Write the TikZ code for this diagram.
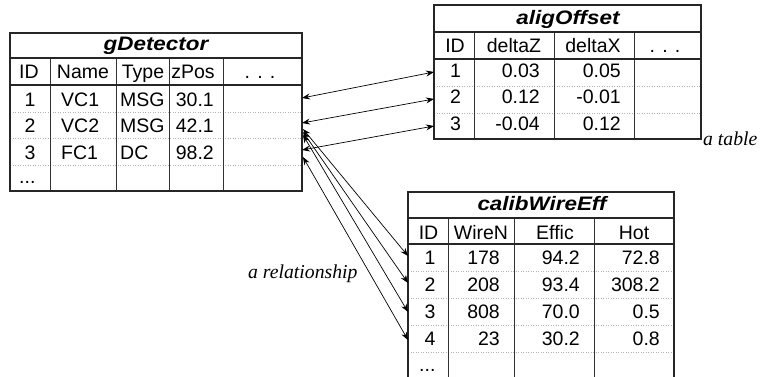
\documentclass[tikz,border=0pt]{standalone}
\usepackage{fontspec}
\usepackage{graphicx}
\newfontfamily\tabfont{Liberation Sans}
\newfontfamily\annfont{Liberation Serif}
\usetikzlibrary{arrows.meta}
\newcommand\celltxt[4]{\node[cell,anchor=#1] (#2) at (#3) {#4};}
\newcommand\ttltxt[3]{\node[ttl,anchor=base] (#1) at (#2) {\scalebox{1.15}[1]{#3}};}
\begin{document}
\begin{tikzpicture}[x=1pt,y=-1pt,
  frame/.style={draw=black!85,line width=1.3pt},
  grid/.style={draw=black!80,line width=0.9pt},
  sep/.style={draw=black!30,dotted,line width=0.5pt},
  cell/.style={inner sep=0pt,font=\tabfont\fontsize{19.5}{21}\selectfont},
  ttl/.style={inner sep=0pt,font=\tabfont\bfseries\itshape\fontsize{19.5}{21}\selectfont},
  ann/.style={inner sep=0pt,font=\annfont\itshape\fontsize{19.7}{22}\selectfont},
  rel/.style={line width=0.7pt,{Stealth[length=8pt,width=6pt]}-{Stealth[length=8pt,width=6pt]}}
]
\useasboundingbox (0,0) rectangle (761,377);

% ---------------- gDetector ----------------
\draw[sep] (10,112)--(302,112) (10,138)--(302,138) (10,165)--(302,165);
\draw[grid] (50,58)--(50,191) (116,58)--(116,191) (169,58)--(169,191) (223,58)--(223,191);
\draw[frame] (10,58)--(302,58) (10,85)--(302,85);
\draw[frame] (10,33) rectangle (302,191);
\ttltxt{gT}{156,51}{gDetector}
\celltxt{base}{gH1}{29,79}{ID}
\celltxt{base}{gH2}{83,79}{Name}
\celltxt{base}{gH3}{143,79}{Type}
\celltxt{base}{gH4}{193,79}{zPos}
\celltxt{base}{gH5}{260,79}{. . .}
\celltxt{base}{g11}{30,106.5}{1}
\celltxt{base west}{g12}{61,106.5}{VC1}
\celltxt{base west}{g13}{120,106.5}{MSG}
\celltxt{base east}{g14}{214,106.5}{30.1}
\celltxt{base}{g21}{30,133}{2}
\celltxt{base west}{g22}{61,133}{VC2}
\celltxt{base west}{g23}{120,133}{MSG}
\celltxt{base east}{g24}{214,133}{42.1}
\celltxt{base}{g31}{30,160}{3}
\celltxt{base west}{g32}{61,160}{FC1}
\celltxt{base west}{g33}{120,160}{DC}
\celltxt{base east}{g34}{214,160}{98.2}
\celltxt{base west}{g41}{19,184}{...}

% ---------------- aligOffset ----------------
\draw[sep] (434,86)--(701,86) (434,113)--(701,113);
\draw[grid] (474,32)--(474,139) (554,32)--(554,139) (634,32)--(634,139);
\draw[frame] (434,32)--(701,32) (434,59)--(701,59);
\draw[frame] (434,5) rectangle (701,139);
\ttltxt{aT}{568,25}{aligOffset}
\celltxt{base}{aH1}{455,53}{ID}
\celltxt{base}{aH2}{514,53}{deltaZ}
\celltxt{base}{aH3}{593,53}{deltaX}
\celltxt{base}{aH4}{665,53}{. . .}
\celltxt{base}{a11}{455.5,77.5}{1}
\celltxt{base east}{a12}{540,77.5}{0.03}
\celltxt{base east}{a13}{621,77.5}{0.05}
\celltxt{base}{a21}{455.5,104}{2}
\celltxt{base east}{a22}{540,104}{0.12}
\celltxt{base east}{a23}{621,104}{-0.01}
\celltxt{base}{a31}{455.5,130.5}{3}
\celltxt{base east}{a32}{540,130.5}{-0.04}
\celltxt{base east}{a33}{621,130.5}{0.12}

% ---------------- calibWireEff ----------------
\draw[sep] (408,271)--(674,271) (408,298)--(674,298) (408,325)--(674,325) (408,352)--(674,352);
\draw[grid] (448,218)--(448,377) (514,218)--(514,377) (594,218)--(594,377);
\draw[frame] (408,218)--(674,218) (408,244)--(674,244);
\draw[frame] (408,377)--(408,192)--(674,192)--(674,377);
\ttltxt{cT}{542,211}{calibWireEff}
\celltxt{base}{cH1}{428.5,240}{ID}
\celltxt{base}{cH2}{481,240}{WireN}
\celltxt{base}{cH3}{555,240}{Effic}
\celltxt{base}{cH4}{634,240}{Hot}
\celltxt{base}{c11}{430,265}{1}
\celltxt{base east}{c12}{500,265}{178}
\celltxt{base east}{c13}{580,265}{94.2}
\celltxt{base east}{c14}{660,265}{72.8}
\celltxt{base}{c21}{430,291.5}{2}
\celltxt{base east}{c22}{500,291.5}{208}
\celltxt{base east}{c23}{580,291.5}{93.4}
\celltxt{base east}{c24}{660,291.5}{308.2}
\celltxt{base}{c31}{430,318}{3}
\celltxt{base east}{c32}{500,318}{808}
\celltxt{base east}{c33}{580,318}{70.0}
\celltxt{base east}{c34}{660,318}{0.5}
\celltxt{base}{c41}{430,345}{4}
\celltxt{base east}{c42}{500,345}{23}
\celltxt{base east}{c43}{580,345}{30.2}
\celltxt{base east}{c44}{660,345}{0.8}
\celltxt{base west}{c51}{419,371}{...}

% ---------------- annotations ----------------
\node[ann,anchor=base west] (lblTable) at (703,146) {a table};
\node[ann,anchor=base west] (lblRel) at (248,278) {a relationship};

% ---------------- relationships ----------------
\coordinate (gA1) at (302,98);
\coordinate (gA2) at (302,123);
\coordinate (gA3) at (302,150);
\coordinate (aA1) at (434,72);
\coordinate (aA2) at (434,99);
\coordinate (aA3) at (434,126);
\coordinate (gC1) at (303,129);
\coordinate (gC2) at (303,132);
\coordinate (gC3) at (303,135);
\coordinate (gC4) at (303,157);
\coordinate (cC1) at (408,256);
\coordinate (cC2) at (408,283);
\coordinate (cC3) at (408,312);
\coordinate (cC4) at (408,340);
\draw[rel] (gA1) -- (aA1);
\draw[rel] (gA2) -- (aA2);
\draw[rel] (gA3) -- (aA3);
\draw[rel] (gC1) -- (cC1);
\draw[rel] (gC2) -- (cC2);
\draw[rel] (gC3) -- (cC3);
\draw[rel] (gC4) -- (cC4);
\end{tikzpicture}
\end{document}
